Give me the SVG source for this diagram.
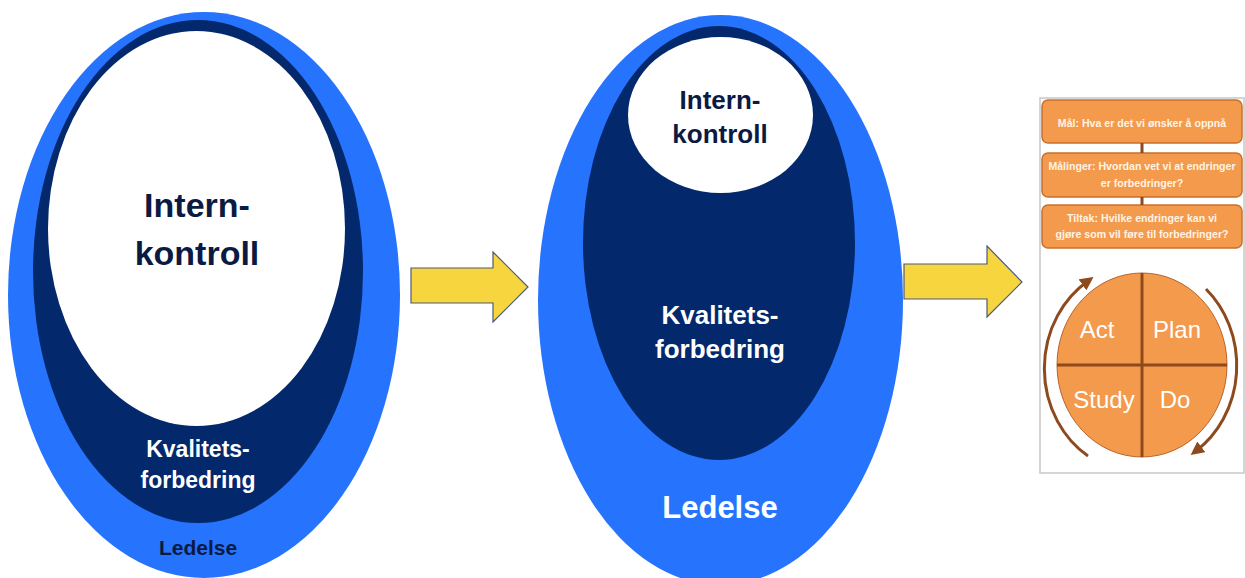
<svg xmlns="http://www.w3.org/2000/svg" width="1245" height="578" viewBox="0 0 1245 578">
<defs>
<style>
.blue{fill:#2673fd}
.navy{fill:#03286c}
.white{fill:#ffffff}
.lbl{font-family:"Liberation Sans",Arial,sans-serif;font-weight:bold;text-anchor:middle}
.dk{fill:#0b1a42}
.wt{fill:#ffffff}
.yarrow{fill:#f7d53e;stroke:#4d5a78;stroke-width:1.2;stroke-linejoin:miter}
.box{fill:#f39a4c;stroke:#c96f2d;stroke-width:1.5}
.btxt{font-family:"Liberation Sans",Arial,sans-serif;font-size:10.6px;font-weight:bold;fill:#fff4e6;text-anchor:middle}
.ctxt{font-family:"Liberation Sans",Arial,sans-serif;font-size:24px;fill:#ffffff;text-anchor:middle}
.brown{stroke:#8e4a1c;fill:none}
</style>
<marker id="ah" viewBox="0 0 10 10" refX="5" refY="5" markerWidth="4.5" markerHeight="4.5" orient="auto" markerUnits="strokeWidth">
<path d="M0,0 L10,5 L0,10 z" fill="#8e4a1c"/>
</marker>
</defs>

<g id="node-left">
<ellipse class="blue" cx="204" cy="295" rx="196" ry="283"/>
<ellipse class="navy" cx="198" cy="271.5" rx="165" ry="251.5"/>
<ellipse class="white" cx="196.5" cy="228.5" rx="148.5" ry="197.5"/>
<text class="lbl dk" x="197" y="217" font-size="34">Intern-</text>
<text class="lbl dk" x="197" y="265" font-size="34">kontroll</text>
<text class="lbl wt" x="198" y="457" font-size="23">Kvalitets-</text>
<text class="lbl wt" x="198" y="488" font-size="23">forbedring</text>
<text class="lbl dk" x="198" y="555" font-size="21">Ledelse</text>
</g>

<g id="node-middle">
<ellipse class="blue" cx="720.5" cy="300" rx="182.5" ry="285"/>
<ellipse class="navy" cx="719" cy="243" rx="136" ry="217"/>
<ellipse class="white" cx="720.5" cy="115" rx="92.5" ry="78"/>
<text class="lbl dk" x="720" y="109" font-size="26">Intern-</text>
<text class="lbl dk" x="720" y="143" font-size="26">kontroll</text>
<text class="lbl wt" x="720" y="324" font-size="26">Kvalitets-</text>
<text class="lbl wt" x="720" y="358" font-size="26">forbedring</text>
<text class="lbl wt" x="720" y="518" font-size="31">Ledelse</text>
</g>

<g id="node-pdsa">
<rect x="1040" y="98" width="204" height="375" fill="#ffffff" stroke="#c8c8c8" stroke-width="1.5"/>
<g id="box-mal">
<rect class="box" x="1042" y="100" width="200" height="43" rx="6"/>
<text class="btxt" x="1142" y="127">Mål: Hva er det vi ønsker å oppnå</text>
</g>
<g id="box-malinger">
<rect class="box" x="1042" y="153" width="200" height="44" rx="6"/>
<text class="btxt" x="1142" y="170">Målinger: Hvordan vet vi at endringer</text>
<text class="btxt" x="1142" y="187">er forbedringer?</text>
</g>
<g id="box-tiltak">
<rect class="box" x="1042" y="205" width="200" height="43" rx="6"/>
<text class="btxt" x="1142" y="222">Tiltak: Hvilke endringer kan vi</text>
<text class="btxt" x="1142" y="238">gjøre som vil føre til forbedringer?</text>
</g>
<g id="pdsa-cycle">
<ellipse cx="1142" cy="365" rx="85" ry="92" fill="#f39a4c" stroke="#b8642a" stroke-width="1"/>
<line x1="1142" y1="273" x2="1142" y2="457" stroke="#8e4a1c" stroke-width="3"/>
<line x1="1057" y1="365" x2="1227" y2="365" stroke="#8e4a1c" stroke-width="3"/>
<text class="ctxt" x="1097" y="338">Act</text>
<text class="ctxt" x="1177" y="338">Plan</text>
<text class="ctxt" x="1104" y="408">Study</text>
<text class="ctxt" x="1175" y="408">Do</text>
</g>
</g>

<g id="connectors">
<path class="yarrow" d="M411,268 L493,268 L493,252 L528,287 L493,322 L493,303 L411,303 Z"/>
<path class="yarrow" d="M904,264 L987,264 L987,246 L1022,282 L987,317 L987,299 L904,299 Z"/>
<line x1="1142" y1="143" x2="1142" y2="153" stroke="#8e4a1c" stroke-width="3"/>
<line x1="1142" y1="197" x2="1142" y2="205" stroke="#8e4a1c" stroke-width="3"/>
<path class="brown" stroke-width="3" d="M1088,456 A95,104 0 0 1 1088,281" marker-end="url(#ah)"/>
<path class="brown" stroke-width="3" d="M1206,289 A95,104 0 0 1 1196,451" marker-end="url(#ah)"/>
</g>
</svg>
